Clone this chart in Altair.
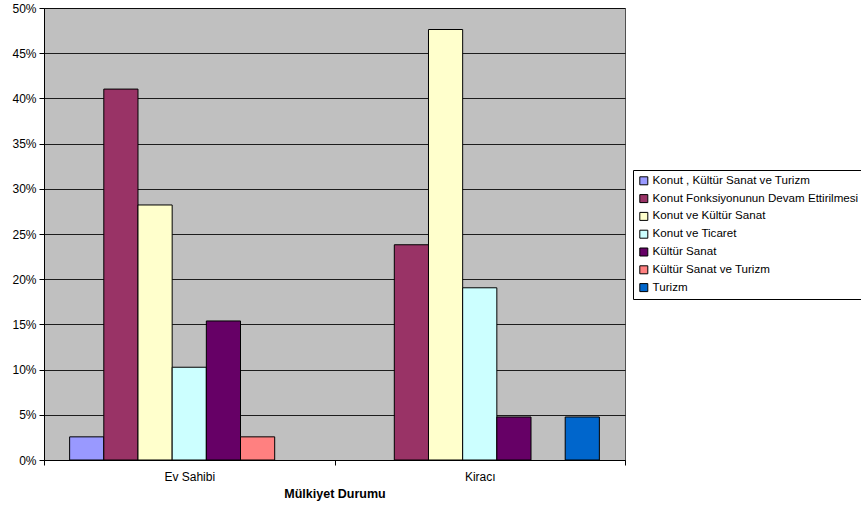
import altair as alt
import pandas as pd

# Ownership groups on the x axis
categories = ["Ev Sahibi", "Kiracı"]

# Preferred future use, one bar per option inside each group
series = [
    "Konut , Kültür Sanat ve Turizm",
    "Konut Fonksiyonunun Devam Ettirilmesi",
    "Konut ve Kültür Sanat",
    "Konut ve Ticaret",
    "Kültür Sanat",
    "Kültür Sanat ve Turizm",
    "Turizm",
]

# Share of answers per group (fractions)
ev_sahibi = [0.0256, 0.4103, 0.2821, 0.1026, 0.1538, 0.0256, 0.0]
kiraci = [0.0, 0.2381, 0.4762, 0.1905, 0.0476, 0.0, 0.0476]

colors = ["#9999FF", "#993366", "#FFFFCC", "#CCFFFF", "#660066", "#FF8080", "#0066CC"]
y_ticks = [0, 0.05, 0.10, 0.15, 0.20, 0.25, 0.30, 0.35, 0.40, 0.45, 0.50]

rows = []
for cat, vals in zip(categories, [ev_sahibi, kiraci]):
    for s, v in zip(series, vals):
        if v > 0:
            rows.append({"Mülkiyet Durumu": cat, "Seri": s, "Oran": v})
df = pd.DataFrame(rows)

font = "Liberation Sans"

chart = (
    alt.Chart(df)
    .mark_bar(stroke="black", strokeWidth=1)
    .encode(
        x=alt.X(
            "Mülkiyet Durumu:N",
            sort=categories,
            scale=alt.Scale(domain=categories, paddingInner=0, paddingOuter=0),
            axis=alt.Axis(
                title="Mülkiyet Durumu",
                titleFont=font,
                titleFontSize=12.5,
                titleFontWeight="bold",
                titleColor="black",
                titlePadding=5,
                labelFont=font,
                labelFontSize=12,
                labelColor="black",
                labelAngle=0,
                labelPadding=6,
                tickBand="extent",
                tickSize=5,
                tickColor="black",
                domainColor="black",
                grid=False,
            ),
        ),
        xOffset=alt.XOffset(
            "Seri:N",
            sort=series,
            scale=alt.Scale(domain=series, paddingInner=0, paddingOuter=0.75),
        ),
        y=alt.Y(
            "Oran:Q",
            scale=alt.Scale(domain=[0, 0.5], nice=False),
            axis=alt.Axis(
                title=None,
                values=y_ticks,
                format=".0%",
                labelFont=font,
                labelFontSize=12,
                labelColor="black",
                labelPadding=3,
                tickSize=5,
                tickColor="black",
                domainColor="black",
                grid=True,
                gridColor="black",
                gridWidth=1,
                gridOpacity=0.85,
            ),
        ),
        color=alt.Color(
            "Seri:N",
            sort=series,
            scale=alt.Scale(domain=series, range=colors),
            legend=alt.Legend(
                title=None,
                orient="none",
                legendX=589,
                legendY=162,
                symbolType="square",
                symbolSize=64,
                symbolStrokeColor="black",
                symbolStrokeWidth=1,
                labelFont=font,
                labelFontSize=11.6,
                labelColor="black",
                labelOffset=3,
                rowPadding=4.8,
                padding=5,
                strokeColor="black",
                fillColor="white",
                labelLimit=300,
            ),
        ),
    )
    .properties(
        width=581,
        height=452,
        autosize=alt.AutoSizeParams(type="none"),
        padding={"left": 44, "top": 8, "right": 236, "bottom": 52},
        background="white",
    )
    .configure_view(fill="#C0C0C0", stroke="#505050", strokeWidth=1)
)

chart.save("out.html", embed_options={"renderer": "svg", "actions": False})
